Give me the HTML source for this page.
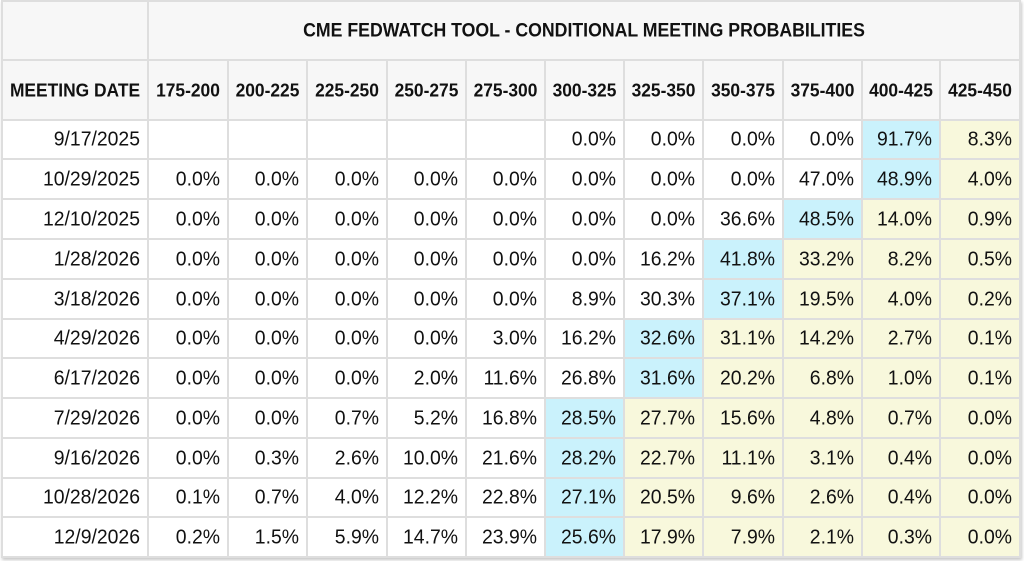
<!DOCTYPE html>
<html><head><meta charset="utf-8">
<style>
html,body{margin:0;padding:0;background:#fff;width:1024px;height:561px;overflow:hidden;}
.t{position:absolute;left:1px;top:0;padding:2px;background:#dedede;display:grid;
grid-template-columns:144px 78px 77px 78px 77px 77px 77px 77px 78px 77px 76px 78px;
grid-template-rows:57px 58px 37px 38px 38px 38px 38px 37px 38px 38px 38px 37px 38px;
gap:2px;box-shadow:1px 2px 3px rgba(0,0,0,0.22);
font-family:"Liberation Sans",Arial,sans-serif;}
.t div{background:#fff;display:flex;align-items:center;justify-content:flex-end;padding-right:7px;font-size:19.4px;color:#111;white-space:nowrap;}
.t div.h{background:#f7f7f7;justify-content:center;padding:0;font-weight:bold;font-size:17.4px;color:#111;}
.t div.ti{grid-column:2 / 13;font-size:17.7px;}
.t div.b{background:#caf2fc;}
.t div.y{background:#f8f8dc;}
.t i{font-style:normal;display:inline-block;transform:scaleY(1.07);}
</style></head><body>
<div class="t">
<div class="h"></div><div class="h ti"><i>CME FEDWATCH TOOL - CONDITIONAL MEETING PROBABILITIES</i></div>
<div class="h"><i>MEETING DATE</i></div><div class="h"><i>175-200</i></div><div class="h"><i>200-225</i></div><div class="h"><i>225-250</i></div><div class="h"><i>250-275</i></div><div class="h"><i>275-300</i></div><div class="h"><i>300-325</i></div><div class="h"><i>325-350</i></div><div class="h"><i>350-375</i></div><div class="h"><i>375-400</i></div><div class="h"><i>400-425</i></div><div class="h"><i>425-450</i></div>

<div><i>9/17/2025</i></div><div></div><div></div><div></div><div></div><div></div><div><i>0.0%</i></div><div><i>0.0%</i></div><div><i>0.0%</i></div><div><i>0.0%</i></div><div class="b"><i>91.7%</i></div><div class="y"><i>8.3%</i></div>

<div><i>10/29/2025</i></div><div><i>0.0%</i></div><div><i>0.0%</i></div><div><i>0.0%</i></div><div><i>0.0%</i></div><div><i>0.0%</i></div><div><i>0.0%</i></div><div><i>0.0%</i></div><div><i>0.0%</i></div><div><i>47.0%</i></div><div class="b"><i>48.9%</i></div><div class="y"><i>4.0%</i></div>

<div><i>12/10/2025</i></div><div><i>0.0%</i></div><div><i>0.0%</i></div><div><i>0.0%</i></div><div><i>0.0%</i></div><div><i>0.0%</i></div><div><i>0.0%</i></div><div><i>0.0%</i></div><div><i>36.6%</i></div><div class="b"><i>48.5%</i></div><div class="y"><i>14.0%</i></div><div class="y"><i>0.9%</i></div>

<div><i>1/28/2026</i></div><div><i>0.0%</i></div><div><i>0.0%</i></div><div><i>0.0%</i></div><div><i>0.0%</i></div><div><i>0.0%</i></div><div><i>0.0%</i></div><div><i>16.2%</i></div><div class="b"><i>41.8%</i></div><div class="y"><i>33.2%</i></div><div class="y"><i>8.2%</i></div><div class="y"><i>0.5%</i></div>

<div><i>3/18/2026</i></div><div><i>0.0%</i></div><div><i>0.0%</i></div><div><i>0.0%</i></div><div><i>0.0%</i></div><div><i>0.0%</i></div><div><i>8.9%</i></div><div><i>30.3%</i></div><div class="b"><i>37.1%</i></div><div class="y"><i>19.5%</i></div><div class="y"><i>4.0%</i></div><div class="y"><i>0.2%</i></div>

<div><i>4/29/2026</i></div><div><i>0.0%</i></div><div><i>0.0%</i></div><div><i>0.0%</i></div><div><i>0.0%</i></div><div><i>3.0%</i></div><div><i>16.2%</i></div><div class="b"><i>32.6%</i></div><div class="y"><i>31.1%</i></div><div class="y"><i>14.2%</i></div><div class="y"><i>2.7%</i></div><div class="y"><i>0.1%</i></div>

<div><i>6/17/2026</i></div><div><i>0.0%</i></div><div><i>0.0%</i></div><div><i>0.0%</i></div><div><i>2.0%</i></div><div><i>11.6%</i></div><div><i>26.8%</i></div><div class="b"><i>31.6%</i></div><div class="y"><i>20.2%</i></div><div class="y"><i>6.8%</i></div><div class="y"><i>1.0%</i></div><div class="y"><i>0.1%</i></div>

<div><i>7/29/2026</i></div><div><i>0.0%</i></div><div><i>0.0%</i></div><div><i>0.7%</i></div><div><i>5.2%</i></div><div><i>16.8%</i></div><div class="b"><i>28.5%</i></div><div class="y"><i>27.7%</i></div><div class="y"><i>15.6%</i></div><div class="y"><i>4.8%</i></div><div class="y"><i>0.7%</i></div><div class="y"><i>0.0%</i></div>

<div><i>9/16/2026</i></div><div><i>0.0%</i></div><div><i>0.3%</i></div><div><i>2.6%</i></div><div><i>10.0%</i></div><div><i>21.6%</i></div><div class="b"><i>28.2%</i></div><div class="y"><i>22.7%</i></div><div class="y"><i>11.1%</i></div><div class="y"><i>3.1%</i></div><div class="y"><i>0.4%</i></div><div class="y"><i>0.0%</i></div>

<div><i>10/28/2026</i></div><div><i>0.1%</i></div><div><i>0.7%</i></div><div><i>4.0%</i></div><div><i>12.2%</i></div><div><i>22.8%</i></div><div class="b"><i>27.1%</i></div><div class="y"><i>20.5%</i></div><div class="y"><i>9.6%</i></div><div class="y"><i>2.6%</i></div><div class="y"><i>0.4%</i></div><div class="y"><i>0.0%</i></div>

<div><i>12/9/2026</i></div><div><i>0.2%</i></div><div><i>1.5%</i></div><div><i>5.9%</i></div><div><i>14.7%</i></div><div><i>23.9%</i></div><div class="b"><i>25.6%</i></div><div class="y"><i>17.9%</i></div><div class="y"><i>7.9%</i></div><div class="y"><i>2.1%</i></div><div class="y"><i>0.3%</i></div><div class="y"><i>0.0%</i></div>
</div>
</body></html>
